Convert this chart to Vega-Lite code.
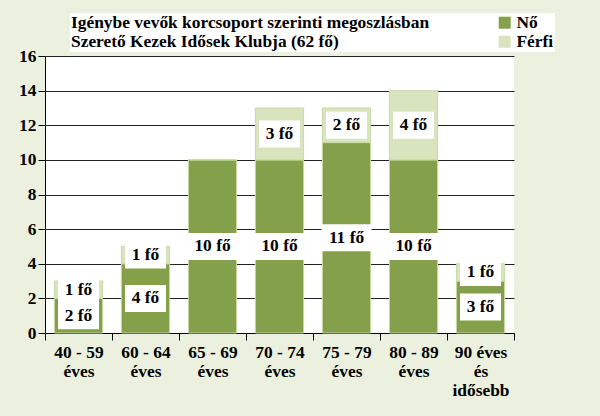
{
  "$schema": "https://vega.github.io/schema/vega-lite/v6.json",
  "width": 469,
  "height": 277,
  "autosize": "none",
  "padding": {"left": 45, "top": 56, "right": 86, "bottom": 83},
  "background": "#ebf1de",
  "view": {"fill": "white", "stroke": null},
  "config": {"font": "Liberation Serif"},
  "data": {
    "values": [
      {"kor": "40 - 59\néves", "nem": "Nő", "n": 2},
      {"kor": "40 - 59\néves", "nem": "Férfi", "n": 1},
      {"kor": "60 - 64\néves", "nem": "Nő", "n": 4},
      {"kor": "60 - 64\néves", "nem": "Férfi", "n": 1},
      {"kor": "65 - 69\néves", "nem": "Nő", "n": 10},
      {"kor": "65 - 69\néves", "nem": "Férfi", "n": 0},
      {"kor": "70 - 74\néves", "nem": "Nő", "n": 10},
      {"kor": "70 - 74\néves", "nem": "Férfi", "n": 3},
      {"kor": "75 - 79\néves", "nem": "Nő", "n": 11},
      {"kor": "75 - 79\néves", "nem": "Férfi", "n": 2},
      {"kor": "80 - 89\néves", "nem": "Nő", "n": 10},
      {"kor": "80 - 89\néves", "nem": "Férfi", "n": 4},
      {"kor": "90 éves\nés\nidősebb", "nem": "Nő", "n": 3},
      {"kor": "90 éves\nés\nidősebb", "nem": "Férfi", "n": 1}
    ]
  },
  "encoding": {
    "x": {
      "field": "kor", "type": "nominal", "sort": null,
      "scale": {"paddingInner": 0, "paddingOuter": 0},
      "axis": {
        "title": null, "labelExpr": "split(datum.label, '\\n')", "labelAngle": 0,
        "ticks": true, "tickSize": 7, "tickColor": "black", "tickBand": "extent",
        "labelPadding": 3, "labelFontSize": 17.4,
        "labelFontWeight": "bold", "labelColor": "black", "labelLineHeight": 19,
        "domain": true, "domainColor": "black", "labelLimit": 0, "labelBaseline": "top",
        "grid": false
      }
    }
  },
  "layer": [
    {
      "mark": {"type": "bar", "stroke": "#c8d9a6", "strokeWidth": 1, "width": {"band": 0.72}},
      "encoding": {
        "y": {
          "field": "n", "type": "quantitative", "stack": "zero",
          "scale": {"domain": [0, 16]},
          "axis": {
            "title": null, "values": [0, 2, 4, 6, 8, 10, 12, 14, 16], "tickSize": 7,
            "tickColor": "black", "domainColor": "black", "gridColor": "#222222",
            "labelFontSize": 17.4, "labelFontWeight": "bold", "labelColor": "black",
            "labelPadding": 2
          }
        },
        "color": {
          "field": "nem", "type": "nominal", "sort": ["Nő", "Férfi"],
          "scale": {"domain": ["Nő", "Férfi"], "range": ["#85a04b", "#d7e4bd"]},
          "legend": {
            "orient": "none", "legendX": 25, "legendY": -43, "direction": "vertical",
            "title": ["Igénybe vevők korcsoport szerinti megoszlásban", "Szerető Kezek Idősek Klubja (62 fő)"],
            "titleOrient": "left", "titleAnchor": "start", "titleAlign": "left",
            "titleBaseline": "top", "titleFontSize": 17.4, "titleFontWeight": "bold",
            "titleColor": "black", "titleLimit": 1000, "titleLineHeight": 19,
            "titlePadding": 66, "fillColor": "white", "padding": 1,
            "symbolType": "square", "symbolSize": 144, "symbolStrokeWidth": 0,
            "labelFontSize": 17.4, "labelFontWeight": "bold", "labelColor": "black",
            "labelOffset": 3, "rowPadding": 0
          }
        }
      }
    },
    {
      "transform": [
        {"filter": "datum.n > 0"},
        {"stack": "n", "groupby": ["kor"], "sort": [{"field": "nem", "order": "descending"}], "as": ["y0", "y1"]},
        {"calculate": "(datum.y0 + datum.y1) / 2", "as": "mid"}
      ],
      "mark": {"type": "point", "filled": true, "fill": "white", "opacity": 1, "strokeWidth": 0},
      "encoding": {
        "y": {
          "field": "mid", "type": "quantitative",
          "axis": {
            "title": null, "values": [0, 2, 4, 6, 8, 10, 12, 14, 16], "tickSize": 7,
            "tickColor": "black", "domainColor": "black", "gridColor": "#222222",
            "labelFontSize": 17.4, "labelFontWeight": "bold", "labelColor": "black",
            "labelPadding": 2
          }
        },
        "shape": {
          "condition": {"test": "datum.n >= 10", "value": "M-1,-0.54L1,-0.54L1,0.54L-1,0.54Z"},
          "value": "M-0.82,-0.54L0.82,-0.54L0.82,0.54L-0.82,0.54Z"
        },
        "size": {"value": 2500}
      }
    },
    {
      "transform": [
        {"filter": "datum.n > 0"},
        {"stack": "n", "groupby": ["kor"], "sort": [{"field": "nem", "order": "descending"}], "as": ["y0", "y1"]},
        {"calculate": "(datum.y0 + datum.y1) / 2", "as": "mid"},
        {"calculate": "datum.n + ' fő'", "as": "lbl"}
      ],
      "mark": {"type": "text", "fontSize": 17.4, "fontWeight": "bold", "fill": "black", "baseline": "middle"},
      "encoding": {
        "y": {
          "field": "mid", "type": "quantitative",
          "axis": {
            "title": null, "values": [0, 2, 4, 6, 8, 10, 12, 14, 16], "tickSize": 7,
            "tickColor": "black", "domainColor": "black", "gridColor": "#222222",
            "labelFontSize": 17.4, "labelFontWeight": "bold", "labelColor": "black",
            "labelPadding": 2
          }
        },
        "text": {"field": "lbl"}
      }
    }
  ]
}
